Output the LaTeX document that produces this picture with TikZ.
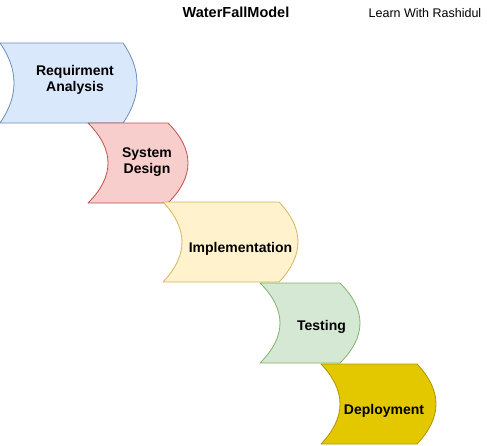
\documentclass[tikz,border=0pt]{standalone}
\usepackage{fontspec}
\setmainfont{Liberation Sans}
\definecolor{reqfill}{HTML}{DAE8FC}\definecolor{reqline}{HTML}{6C8EBF}
\definecolor{desfill}{HTML}{F8CECC}\definecolor{desline}{HTML}{B85450}
\definecolor{impfill}{HTML}{FFF2CC}\definecolor{impline}{HTML}{D6B656}
\definecolor{tesfill}{HTML}{D5E8D4}\definecolor{tesline}{HTML}{82B366}
\definecolor{depfill}{HTML}{E3C800}\definecolor{depline}{HTML}{B09500}
\newcommand\wfstep[6]{%
  \filldraw[stepshape,#6] (#1,#3) -- (#2,#3)
    .. controls ({#2+4*#5/3},{#3+(#4-#3)/3}) and ({#2+4*#5/3},{#4-(#4-#3)/3}) .. (#2,#4)
    -- (#1,#4)
    .. controls ({#1+4*#5/3},{#4-(#4-#3)/3}) and ({#1+4*#5/3},{#3+(#4-#3)/3}) .. (#1,#3) -- cycle;}
\tikzset{
  stepshape/.style={line width=0.8pt, line join=round},
  steplabel/.style={font=\bfseries\fontsize{14}{16}\selectfont, align=center, inner sep=0pt},
}
\begin{document}
\begin{tikzpicture}[x=1pt,y=-1pt]
\useasboundingbox (0,0) rectangle (487,445);
\wfstep{0}{123}{43}{123}{14}{fill=reqfill,draw=reqline}
\wfstep{88}{168}{123}{203}{20}{fill=desfill,draw=desline}
\wfstep{163}{279}{202}{282}{19}{fill=impfill,draw=impline}
\wfstep{260}{340}{283}{363}{20}{fill=tesfill,draw=tesline}
\wfstep{321}{417}{364}{444}{19}{fill=depfill,draw=depline}
\node[steplabel] (req) at (75,79.5) {Requirment\\Analysis};
\node[steplabel] (des) at (147,162.5) {System\\Design};
\node[steplabel] (imp) at (240.5,248.5) {Implementation};
\node[steplabel] (tes) at (321.5,326.5) {Testing};
\node[steplabel] (dep) at (384,410.5) {Deployment};
\node[font=\bfseries\fontsize{14.5}{16}\selectfont, inner sep=0pt] (title) at (236,12.5) {WaterFallModel};
\node[font=\fontsize{12.5}{14}\selectfont, inner sep=0pt] (author) at (425,13.5) {Learn With Rashidul};
\end{tikzpicture}
\end{document}
